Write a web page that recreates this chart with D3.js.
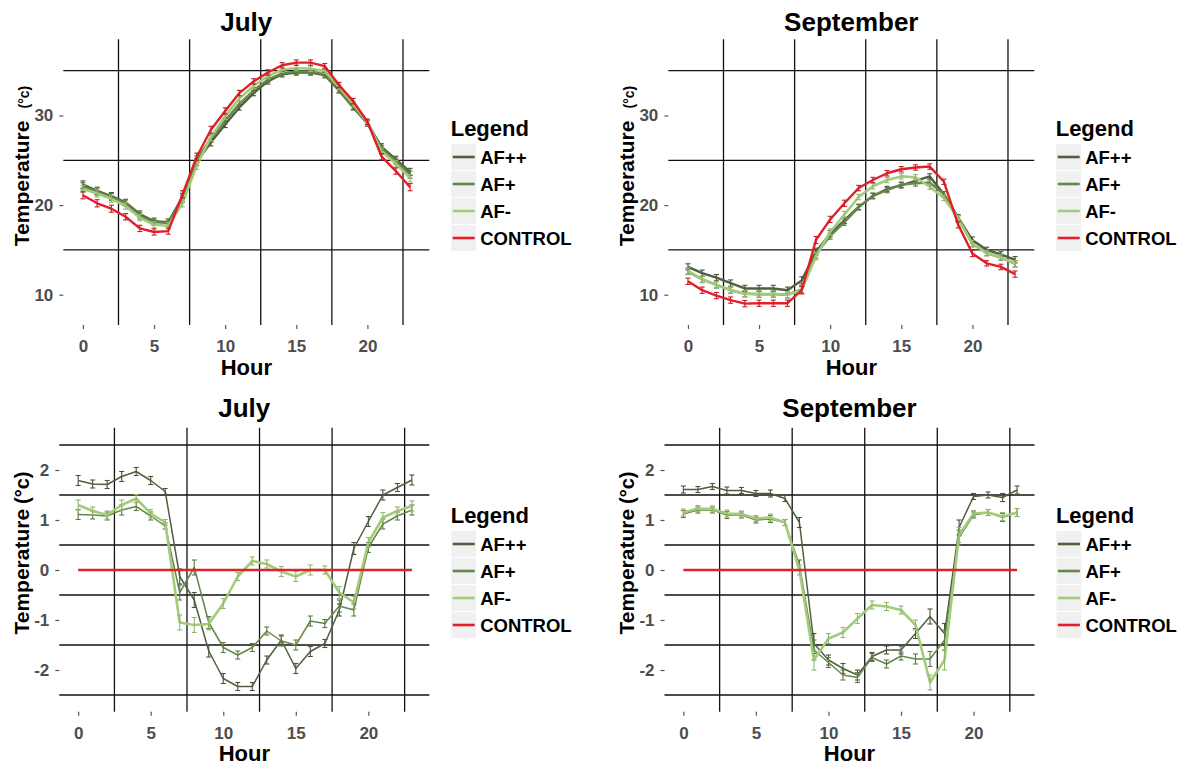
<!DOCTYPE html>
<html>
<head>
<meta charset="utf-8">
<script src="https://cdn.jsdelivr.net/npm/d3@7"></script>
<style>
  body { margin: 0; background: #fff; }
  svg { display: block; font-family: 'Liberation Sans', Arial, sans-serif; }
</style>
</head>
<body>
<script>
// ---- data ----
const hours = [0, 1, 2, 3, 4, 5, 6, 7, 8, 9, 10, 11, 12, 13, 14, 15, 16, 17, 18, 19, 20, 21, 22, 23]
const seriesNames = ['AF++', 'AF+', 'AF-', 'CONTROL']
const seriesColors = ['#505f40', '#66874a', '#a3cc7a', '#e0202a']

// July, absolute temperature (°C)
const julyAFpp = [22.3, 21.6, 21.0, 20.3, 19.0, 18.2, 18.1, 20.9, 24.8, 27.0, 29.0, 30.9, 32.5, 33.8, 34.6, 34.8, 34.8, 34.5, 32.8, 30.9, 29.1, 26.5, 25.1, 23.7]
const julyAFp = [22.1, 21.5, 20.9, 20.2, 18.8, 18.1, 18.0, 20.7, 25.1, 27.4, 29.4, 31.3, 32.8, 34.0, 34.7, 34.9, 34.9, 34.6, 32.9, 31.0, 29.2, 26.3, 24.9, 23.4]
const julyAFm = [21.8, 21.3, 20.7, 19.9, 18.6, 17.8, 17.7, 20.2, 24.4, 27.6, 29.9, 31.9, 33.3, 34.4, 35.1, 35.3, 35.2, 35.0, 33.2, 31.3, 29.2, 26.0, 24.6, 23.0]
const julyCtrl = [21.1, 20.2, 19.6, 18.7, 17.4, 17.0, 17.1, 21.2, 25.4, 28.4, 30.5, 32.5, 33.8, 34.8, 35.6, 35.9, 35.9, 35.5, 33.4, 31.6, 29.3, 25.4, 23.8, 22.0]
const julySe = [0.4, 0.4, 0.4, 0.35, 0.35, 0.35, 0.35, 0.4, 0.4, 0.4, 0.35, 0.3, 0.3, 0.3, 0.3, 0.3, 0.3, 0.3, 0.3, 0.3, 0.3, 0.35, 0.35, 0.4]

// September, absolute temperature (°C)
const septAFpp = [13.1, 12.4, 11.9, 11.3, 10.7, 10.7, 10.7, 10.5, 11.6, 14.8, 16.8, 18.3, 19.8, 21.0, 21.8, 22.2, 22.7, 23.2, 21.2, 18.6, 16.1, 15.0, 14.5, 13.9]
const septAFp = [12.6, 11.7, 11.1, 10.5, 10.1, 10.05, 10.07, 10.0, 10.6, 14.5, 16.55, 18.1, 19.75, 21.05, 21.67, 22.28, 22.42, 22.52, 21.2, 18.45, 15.7, 14.65, 14.15, 13.45]
const septAFm = [12.65, 11.73, 11.12, 10.53, 10.12, 10.08, 10.1, 10.0, 10.5, 14.3, 17.0, 18.95, 20.9, 22.1, 22.8, 23.2, 23.1, 22.05, 20.8, 18.5, 15.7, 14.65, 14.17, 13.45]
const septCtrl = [11.5, 10.5, 9.9, 9.4, 9.0, 9.05, 9.05, 9.05, 10.5, 16.1, 18.4, 20.2, 21.9, 22.8, 23.55, 24.0, 24.2, 24.3, 22.6, 17.8, 14.6, 13.5, 13.1, 12.3]
const septSe = [0.35, 0.35, 0.35, 0.35, 0.35, 0.35, 0.35, 0.35, 0.4, 0.4, 0.35, 0.35, 0.3, 0.3, 0.3, 0.3, 0.3, 0.3, 0.3, 0.35, 0.35, 0.3, 0.3, 0.35]

// July, difference to CONTROL (°C)
const julyDiffAFpp = [1.79, 1.72, 1.71, 1.87, 1.97, 1.79, 1.57, -0.13, -0.6, -1.62, -2.17, -2.33, -2.33, -1.8, -1.4, -1.97, -1.63, -1.47, -0.8, 0.43, 0.97, 1.5, 1.65, 1.8]
const julyDiffAFp = [1.11, 1.1, 1.08, 1.2, 1.27, 1.08, 0.88, -0.45, 0.05, -1.05, -1.55, -1.7, -1.55, -1.22, -1.42, -1.5, -1.02, -1.07, -0.72, -0.8, 0.45, 0.92, 1.08, 1.2]
const julyDiffAFm = [1.3, 1.18, 1.1, 1.3, 1.43, 1.13, 0.95, -1.05, -1.1, -1.08, -0.67, -0.13, 0.18, 0.12, -0.03, -0.13, 0.0, 0.0, -0.45, -0.65, 0.55, 1.05, 1.18, 1.28]
const julyDiffCtrl = [0, 0, 0, 0, 0, 0, 0, 0, 0, 0, 0, 0, 0, 0, 0, 0, 0, 0, 0, 0, 0, 0, 0, 0]
const julyDiffSe = [0.1, 0.08, 0.08, 0.1, 0.08, 0.08, 0.06, 0.15, 0.15, 0.12, 0.1, 0.08, 0.08, 0.08, 0.1, 0.1, 0.1, 0.08, 0.12, 0.12, 0.1, 0.1, 0.08, 0.1]

// September, difference to CONTROL (°C)
const septDiffAFpp = [1.61, 1.61, 1.67, 1.59, 1.59, 1.53, 1.53, 1.43, 0.95, -1.47, -1.8, -1.97, -2.1, -1.73, -1.6, -1.6, -1.27, -0.93, -1.27, 0.85, 1.47, 1.5, 1.45, 1.6]
const septDiffAFp = [1.12, 1.2, 1.2, 1.1, 1.1, 1.0, 1.02, 0.95, 0.1, -1.6, -1.85, -2.1, -2.15, -1.75, -1.88, -1.72, -1.78, -1.78, -1.4, 0.65, 1.1, 1.15, 1.05, 1.15]
const septDiffAFm = [1.15, 1.23, 1.22, 1.13, 1.12, 1.03, 1.05, 0.95, 0.0, -1.8, -1.37, -1.25, -0.97, -0.7, -0.73, -0.8, -1.1, -2.25, -1.8, 0.7, 1.13, 1.15, 1.07, 1.15]
const septDiffCtrl = [0, 0, 0, 0, 0, 0, 0, 0, 0, 0, 0, 0, 0, 0, 0, 0, 0, 0, 0, 0, 0, 0, 0, 0]
const septDiffSe = [0.07, 0.06, 0.06, 0.07, 0.06, 0.06, 0.07, 0.06, 0.1, 0.2, 0.1, 0.1, 0.1, 0.08, 0.08, 0.08, 0.1, 0.15, 0.2, 0.15, 0.06, 0.06, 0.08, 0.08]

const xTicks = [0, 5, 10, 15, 20]
const xMinor = [2.5, 7.5, 12.5, 17.5, 22.5]
const absTicks = [10, 20, 30]
const absMinor = [15, 25, 35]
const diffTicks = [-2, -1, 0, 1, 2]
const diffMinor = [-2.5, -1.5, -0.5, 0.5, 1.5, 2.5]

// ---- layout ----
const svg = d3.select('body').append('svg').attr('width', 1185).attr('height', 767)

const topRow = {top: 39.3, bottom: 325, yDomain: [6.62, 38.5], xDomain: [-1.38, 24.35],
  yTicks: absTicks, yMinor: absMinor, titleY: 31, hourY: 375, labelCY: 166, legendY: 136,
  small: true, widths: [2.4, 2.4, 2.6, 2.4]}
const botRow = {top: 427.7, bottom: 711.7, yDomain: [-2.834, 2.846], xDomain: [-1.3, 24.2],
  yTicks: diffTicks, yMinor: diffMinor, titleY: 417, hourY: 761, labelCY: 553, legendY: 523,
  small: false, widths: [1.5, 1.5, 2.6, 2.6]}

const panels = [
  Object.assign({}, topRow, {left: 63.3, right: 429.3, offset: 0, title: 'July',
    series: [julyAFpp, julyAFp, julyAFm, julyCtrl], se: julySe, ctrlErr: true}),
  Object.assign({}, topRow, {left: 668.3, right: 1034.3, offset: 605, title: 'September',
    series: [septAFpp, septAFp, septAFm, septCtrl], se: septSe, ctrlErr: true}),
  Object.assign({}, botRow, {left: 59.3, right: 429.3, offset: 0, title: 'July',
    series: [julyDiffAFpp, julyDiffAFp, julyDiffAFm, julyDiffCtrl], se: julyDiffSe, ctrlErr: false}),
  Object.assign({}, botRow, {left: 664.5, right: 1034.5, offset: 605, title: 'September',
    series: [septDiffAFpp, septDiffAFp, septDiffAFm, septDiffCtrl], se: septDiffSe, ctrlErr: false})
]

function drawPanel(p) {
  const x = d3.scaleLinear().domain(p.xDomain).range([p.left, p.right])
  const y = d3.scaleLinear().domain(p.yDomain).range([p.bottom, p.top])
  const g = svg.append('g')

  // grid: minor lines are black in this theme
  g.selectAll('.gx').data(xMinor).join('line')
    .attr('x1', d => x(d)).attr('x2', d => x(d))
    .attr('y1', p.top).attr('y2', p.bottom)
    .attr('stroke', '#111').attr('stroke-width', 1.3)
  g.selectAll('.gy').data(p.yMinor).join('line')
    .attr('x1', p.left).attr('x2', p.right)
    .attr('y1', d => y(d)).attr('y2', d => y(d))
    .attr('stroke', '#111').attr('stroke-width', 1.3)

  // axes (plain hyphen for negatives, as in the original)
  const fmt = d => String(d)
  const ax = g.append('g').attr('transform', `translate(0,${p.bottom})`)
    .call(d3.axisBottom(x).tickValues(xTicks).tickFormat(fmt).tickSize(4).tickPadding(8))
  const ay = g.append('g').attr('transform', `translate(${p.left},0)`)
    .call(d3.axisLeft(y).tickValues(p.yTicks).tickFormat(fmt).tickSize(4).tickPadding(6))
  ;[ax, ay].forEach(a => {
    a.select('.domain').remove()
    a.selectAll('.tick line').attr('stroke', '#555').attr('stroke-width', 1.2)
    a.selectAll('.tick text').attr('fill', '#4d4d4d').attr('font-size', 17)
      .attr('font-weight', 'bold').attr('font-family', "'Liberation Sans', Arial, sans-serif")
  })
  ax.selectAll('.tick text').attr('dy', '0.9em')

  // series
  const line = d3.line().x(d => x(d.h)).y(d => y(d.v))
  p.series.forEach((vals, i) => {
    const pts = hours.map((h, k) => ({h, v: vals[k], e: p.se[k]}))
    const col = seriesColors[i]
    g.append('path').datum(pts).attr('d', line)
      .attr('fill', 'none').attr('stroke', col).attr('stroke-width', p.widths[i])
      .attr('stroke-linejoin', 'round')
    if (i < 3 || p.ctrlErr) {
      const eb = g.append('g').attr('stroke', d3.color(col).darker(0.3)).attr('stroke-width', 1.1)
      eb.selectAll('.v').data(pts).join('line')
        .attr('x1', d => x(d.h)).attr('x2', d => x(d.h))
        .attr('y1', d => y(d.v - d.e)).attr('y2', d => y(d.v + d.e))
      eb.selectAll('.t').data(pts).join('line')
        .attr('x1', d => x(d.h) - 2.5).attr('x2', d => x(d.h) + 2.5)
        .attr('y1', d => y(d.v + d.e)).attr('y2', d => y(d.v + d.e))
      eb.selectAll('.b').data(pts).join('line')
        .attr('x1', d => x(d.h) - 2.5).attr('x2', d => x(d.h) + 2.5)
        .attr('y1', d => y(d.v - d.e)).attr('y2', d => y(d.v - d.e))
    }
  })

  const cx = (p.left + p.right) / 2
  g.append('text').attr('x', cx).attr('y', p.titleY).attr('text-anchor', 'middle')
    .attr('font-size', 26).attr('font-weight', 'bold').text(p.title)
  g.append('text').attr('x', cx).attr('y', p.hourY).attr('text-anchor', 'middle')
    .attr('font-size', 22).attr('font-weight', 'bold').text('Hour')

  const yl = g.append('text')
    .attr('transform', `translate(${29 + p.offset},${p.labelCY}) rotate(-90)`)
    .attr('text-anchor', 'middle').attr('font-size', 21).attr('font-weight', 'bold')
  yl.append('tspan').text('Temperature')
  if (p.small) {
    yl.append('tspan').attr('font-size', 14).attr('dx', 12).text('(°c)')
  } else {
    yl.append('tspan').attr('font-size', 20).attr('dx', 5).text('(°c)')
  }

  // legend
  const lx = p.right + 21.4
  const lg = g.append('g')
  lg.append('text').attr('x', lx).attr('y', p.legendY).attr('font-size', 22)
    .attr('font-weight', 'bold').text('Legend')
  const rowH = 27
  const ky = p.legendY + 7.5
  seriesNames.forEach((name, i) => {
    const yy = ky + i * rowH
    lg.append('rect').attr('x', lx).attr('y', yy).attr('width', 26).attr('height', rowH)
      .attr('fill', '#f0f0f0').attr('stroke', '#fff').attr('stroke-width', 1)
    lg.append('line').attr('x1', lx + 2).attr('x2', lx + 24)
      .attr('y1', yy + rowH / 2).attr('y2', yy + rowH / 2)
      .attr('stroke', seriesColors[i]).attr('stroke-width', 2.6)
    lg.append('text').attr('x', lx + 29.5).attr('y', yy + rowH / 2 + 6.6)
      .attr('font-size', 18.5).attr('font-weight', 'bold').text(name)
  })
}

panels.forEach(drawPanel)
</script>
</body>
</html>
